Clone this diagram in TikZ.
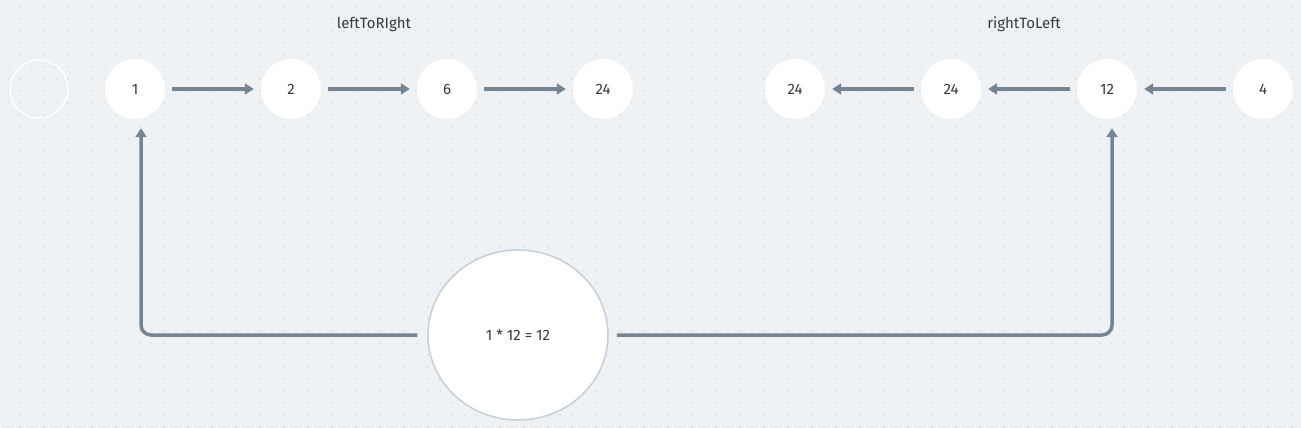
\documentclass[tikz,border=0pt]{standalone}
\usepackage{fontspec}
\setmainfont{Fira Sans}
\usetikzlibrary{arrows.meta,shapes.geometric}
\definecolor{bg}{HTML}{EEF2F5}
\definecolor{dotc}{HTML}{C9D0D6}
\definecolor{arr}{HTML}{768594}
\definecolor{txt}{HTML}{333A40}
\definecolor{brd}{HTML}{C5CFD8}
\begin{document}
\begin{tikzpicture}[x=1pt,y=-1pt,
  val/.style={circle,fill=white,minimum size=60pt,inner sep=0pt,font=\fontsize{15}{18}\selectfont,text=txt},
  link/.style={draw=arr,line width=3.5pt,-{Triangle[length=9pt,width=11pt]}},
  lbl/.style={font=\fontsize{15}{18}\selectfont,text=txt}]
\fill[bg] (0,0) rectangle (1301,428);
\useasboundingbox (0,0) rectangle (1301,428);
\foreach \i in {0,...,108}{\foreach \j in {0,...,35}{\fill[dotc] (8+12*\i,7+12*\j) circle (0.8);}}
\node[circle,draw=white,line width=1.5pt,minimum size=58pt] (e) at (39,89) {};
\node[val] (a1) at (135,89) {1};
\node[val] (a2) at (291,89) {2};
\node[val] (a3) at (447,89) {6};
\node[val] (a4) at (603,89) {24};
\node[val] (b1) at (795,89) {24};
\node[val] (b2) at (951,89) {24};
\node[val] (b3) at (1107,89) {12};
\node[val] (b4) at (1263,89) {4};
\node[lbl] (l1) at (374,24) {leftToRIght};
\node[lbl] (l2) at (1024,24) {rightToLeft};
\node[ellipse,draw=brd,line width=1.5pt,fill=white,minimum width=180pt,minimum height=170pt,inner sep=0pt,lbl] (c) at (518,335) {1 * 12 = 12};
\draw[link,shorten <=7pt,shorten >=7pt] (a1) -- (a2);
\draw[link,shorten <=7pt,shorten >=7pt] (a2) -- (a3);
\draw[link,shorten <=7pt,shorten >=7pt] (a3) -- (a4);
\draw[link,shorten <=7pt,shorten >=7pt] (b4) -- (b3);
\draw[link,shorten <=7pt,shorten >=7pt] (b3) -- (b2);
\draw[link,shorten <=7pt,shorten >=7pt] (b2) -- (b1);
\draw[link,rounded corners=10pt,shorten <=10pt,shorten >=9pt] (c.west) -| ([xshift=6pt]a1.south);
\draw[link,rounded corners=10pt,shorten <=8pt,shorten >=9pt] (c.east) -| ([xshift=5pt]b3.south);
\end{tikzpicture}
\end{document}
